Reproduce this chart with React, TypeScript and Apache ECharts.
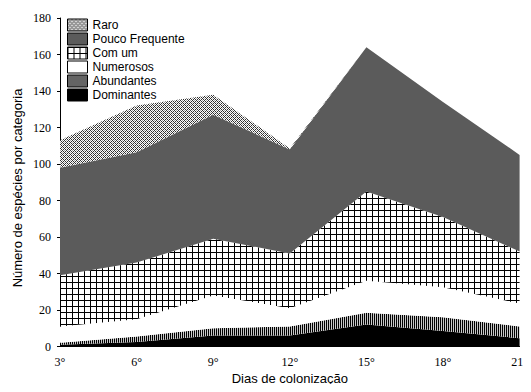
import React, { useEffect, useRef } from 'react';
import * as echarts from 'echarts';

const days = ['3°', '6°', '9°', '12°', '15°', '18°', '21°'];
const dominantes = [1, 2.5, 6, 6, 12, 8.5, 4.5];
const abundantes = [1, 3, 4, 5, 6.5, 7.5, 6.5];
const numerosos = [9, 9.5, 18, 10, 17.5, 16.5, 12.5];
const comUm = [28, 31, 31, 30, 49, 38.5, 28.5];
const poucoFrequente = [59, 60.5, 68, 57, 79, 63, 53];
const raro = [15, 25.5, 11, 0.5, 0, 0, 0];

const legendOrder = ['Raro', 'Pouco Frequente', 'Com um', 'Numerosos', 'Abundantes', 'Dominantes'];

const SERIF = "'Liberation Serif', 'Times New Roman', Times, serif";
const SANS = "'Liberation Sans', Arial, Helvetica, sans-serif";

function makePattern(w: number, h: number, fn: (x: number, y: number) => string) {
  const c = document.createElement('canvas');
  c.width = w;
  c.height = h;
  const ctx = c.getContext('2d')!;
  for (let y = 0; y < h; y++) {
    for (let x = 0; x < w; x++) {
      ctx.fillStyle = fn(x, y);
      ctx.fillRect(x, y, 1, 1);
    }
  }
  return { image: c, repeat: 'repeat', imageWidth: w, imageHeight: h } as any;
}

export default function App() {
  const ref = useRef<HTMLDivElement>(null);
  useEffect(() => {
    const chart = echarts.init(ref.current!, null, { renderer: 'svg' });
    const pRaro = makePattern(4, 4, (x, y) => {
      const k = (x + y) % 4;
      const j = (x - y + 8) % 4;
      if (k === 0 || j === 0) return '#303030';
      if ((x + y) % 2 === 0) return '#a0a0a0';
      return '#ffffff';
    });
    const pGrid = makePattern(6, 6, (x, y) => (x === 0 || y === 0 ? '#000000' : '#ffffff'));
    const pStripe = makePattern(2, 1, (x) => (x === 0 ? '#000000' : '#c8c8c8'));
    const fills: Record<string, any> = {
      'Raro': pRaro,
      'Pouco Frequente': '#5b5b5b',
      'Com um': pGrid,
      'Numerosos': '#ffffff',
      'Abundantes': pStripe,
      'Dominantes': '#000000',
    };
    const stackOrder: [string, number[]][] = [
      ['Dominantes', dominantes],
      ['Abundantes', abundantes],
      ['Numerosos', numerosos],
      ['Com um', comUm],
      ['Pouco Frequente', poucoFrequente],
      ['Raro', raro],
    ];
    chart.setOption({
      animation: false,
      backgroundColor: '#ffffff',
      grid: { left: 60, right: 9, top: 18, bottom: 45.5 },
      legend: {
        orient: 'vertical',
        left: 67,
        top: 18,
        padding: 0,
        itemWidth: 20,
        itemHeight: 12,
        itemGap: 0,
        icon: 'rect',
        selectedMode: false,
        textStyle: { fontFamily: SANS, fontSize: 12, color: '#000', lineHeight: 14 },
        data: legendOrder.map((n) => ({
          name: n,
          itemStyle: { color: fills[n], borderColor: '#000', borderWidth: 1 },
        })),
      },
      xAxis: {
        type: 'category',
        data: days,
        boundaryGap: false,
        axisLine: { show: true, lineStyle: { color: '#000', width: 1 } },
        axisTick: { show: false },
        axisLabel: { fontFamily: SERIF, fontSize: 12, color: '#000', margin: 9 },
        name: 'Dias de colonização',
        nameLocation: 'middle',
        nameGap: 20,
        nameTextStyle: { fontFamily: SANS, fontSize: 13, color: '#000' },
        splitLine: { show: false },
      },
      yAxis: {
        type: 'value',
        min: 0,
        max: 180,
        interval: 20,
        axisLine: { show: true, lineStyle: { color: '#000', width: 1 } },
        axisTick: { show: true, length: 3, lineStyle: { color: '#000' } },
        axisLabel: { fontFamily: SERIF, fontSize: 12, color: '#000', margin: 9 },
        splitLine: { show: false },
      },
      graphic: [
        {
          type: 'text',
          x: 17,
          y: 188,
          rotation: Math.PI / 2,
          style: {
            text: 'Número de espécies por categoria',
            fontFamily: SANS,
            fontSize: 13,
            fill: '#000',
            textAlign: 'center',
            textVerticalAlign: 'middle',
          },
        },
      ],
      series: stackOrder.map(([name, vals]) => ({
        name,
        type: 'line',
        stack: 'total',
        data: vals,
        symbol: 'none',
        lineStyle: { width: 0 },
        itemStyle: { color: '#000' },
        areaStyle: { color: fills[name], opacity: 1 },
        z: 2,
      })),
    });
    return () => chart.dispose();
  }, []);
  return <div ref={ref} style={{ width: 531, height: 392, margin: -8 }} />;
}
